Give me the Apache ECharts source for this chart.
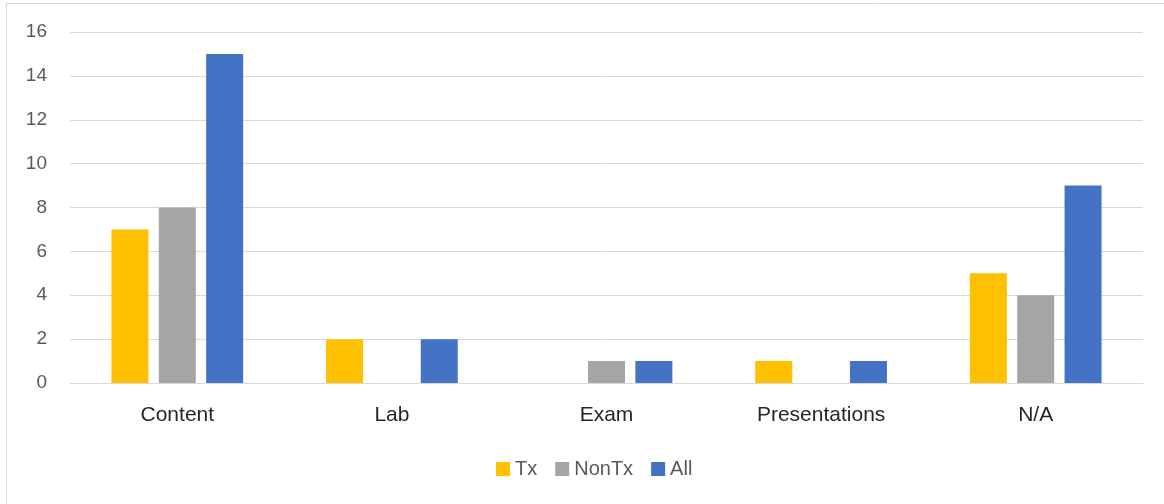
<!DOCTYPE html>
<html>
<head>
<meta charset="utf-8">
<script src="https://cdn.jsdelivr.net/npm/echarts@6/dist/echarts.min.js"></script>
<style>
  html, body { margin: 0; padding: 0; background: #fff; }
  #grafico { width: 1164px; height: 504px; }
</style>
</head>
<body>
<div id="grafico"></div>
<script>
const categorias = ["Content", "Lab", "Exam", "Presentations", "N/A"];
const tx = [7, 2, 0, 1, 5];
const nonTx = [8, 0, 1, 0, 4];
const todos = [15, 2, 1, 1, 9];
const ticksY = [0, 2, 4, 6, 8, 10, 12, 14, 16];

const grafico = echarts.init(document.getElementById("grafico"));

const fuente = "Liberation Sans";

const opciones = {
  animation: false,
  textStyle: { fontFamily: fuente },
  graphic: [{
    type: "rect",
    shape: { x: 6.5, y: 3.5, width: 1170, height: 520 },
    style: { fill: "none", stroke: "#d9d9d9", lineWidth: 1 },
    silent: true
  }],
  grid: { left: 70, right: 21, top: 32, bottom: 121 },
  legend: {
    top: 454,
    left: 491,
    icon: "rect",
    itemWidth: 14,
    itemHeight: 14,
    itemGap: 18,
    textStyle: { fontSize: 20, color: "#595959", fontFamily: fuente },
    data: ["Tx", "NonTx", "All"]
  },
  xAxis: {
    type: "category",
    data: categorias,
    axisLine: { lineStyle: { color: "#d9d9d9", width: 1 } },
    axisTick: { show: false },
    axisLabel: { fontSize: 21, color: "#262626", margin: 22, fontFamily: fuente }
  },
  yAxis: {
    type: "value",
    min: ticksY[0],
    max: ticksY[ticksY.length - 1],
    interval: 2,
    axisLine: { show: false },
    axisTick: { show: false },
    splitLine: { lineStyle: { color: "#d9d9d9", width: 1 } },
    axisLabel: { fontSize: 19, color: "#595959", margin: 23, fontFamily: fuente }
  },
  series: [
    { name: "Tx", type: "bar", data: tx, barWidth: 37, barGap: "28%", itemStyle: { color: "#FFC000" } },
    { name: "NonTx", type: "bar", data: nonTx, barWidth: 37, barGap: "28%", itemStyle: { color: "#A5A5A5" } },
    { name: "All", type: "bar", data: todos, barWidth: 37, barGap: "28%", itemStyle: { color: "#4472C4" } }
  ]
};

grafico.setOption(opciones);
</script>
</body>
</html>
